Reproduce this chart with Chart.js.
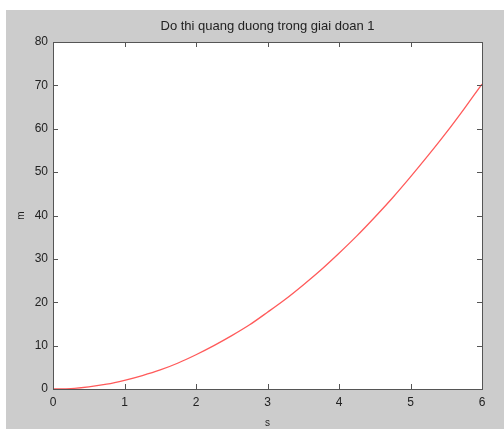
<!DOCTYPE html>
<html>
<head>
<meta charset="utf-8">
<script src="https://cdn.jsdelivr.net/npm/chart.js@4"></script>
<style>
  html, body { margin: 0; padding: 0; background: #ffffff; }
  #wrap { position: absolute; left: 6px; top: 10px; width: 498px; height: 419px; background: #cccccc; }
</style>
</head>
<body>
<div id="wrap"><canvas id="chart" width="498" height="419"></canvas></div>
<script>
// values (time in s, distance in m)
const timeValues = [0, 0.25, 0.5, 0.75, 1, 1.25, 1.5, 1.75, 2, 2.25, 2.5, 2.75, 3,
  3.25, 3.5, 3.75, 4, 4.25, 4.5, 4.75, 5, 5.25, 5.5, 5.75, 6];
const distanceValues = [0, 0.1, 0.5, 1.1, 2.0, 3.1, 4.4, 6.0, 7.9, 10.0, 12.3, 14.8, 17.7,
  20.7, 24.0, 27.5, 31.3, 35.3, 39.6, 44.1, 48.9, 53.9, 59.1, 64.6, 70.3];
const xTicks = [0, 1, 2, 3, 4, 5, 6];
const yTicks = [0, 10, 20, 30, 40, 50, 60, 70, 80];
const chartTitle = 'Do thi quang duong trong giai doan 1';

const points = timeValues.map((t, i) => ({ x: t, y: distanceValues[i] }));

// MATLAB style box with inward ticks on all four sides
const boxTicks = {
  id: 'boxTicks',
  afterDraw(chart) {
    const { ctx, chartArea: a, scales } = chart;
    ctx.save();
    ctx.strokeStyle = '#555555';
    ctx.lineWidth = 1;
    ctx.strokeRect(a.left + 0.5, a.top + 0.5, a.right - a.left, a.bottom - a.top);
    ctx.beginPath();
    xTicks.forEach(v => {
      const px = Math.round(scales.x.getPixelForValue(v)) + 0.5;
      ctx.moveTo(px, a.bottom); ctx.lineTo(px, a.bottom - 5);
      ctx.moveTo(px, a.top); ctx.lineTo(px, a.top + 5);
    });
    yTicks.forEach(v => {
      const py = Math.round(scales.y.getPixelForValue(v)) + 0.5;
      ctx.moveTo(a.left, py); ctx.lineTo(a.left + 5, py);
      ctx.moveTo(a.right, py); ctx.lineTo(a.right - 5, py);
    });
    ctx.stroke();
    // title centred over the axes box, like matlab does
    ctx.fillStyle = '#222222';
    ctx.font = '13px "Liberation Sans"';
    ctx.textAlign = 'center';
    ctx.textBaseline = 'middle';
    ctx.fillText(chartTitle, (a.left + a.right) / 2, 16);
    ctx.restore();
  }
};

const plotBg = {
  id: 'plotBg',
  beforeDraw(chart) {
    const { ctx, chartArea: a } = chart;
    ctx.save();
    ctx.fillStyle = '#ffffff';
    ctx.fillRect(a.left, a.top, a.right - a.left, a.bottom - a.top);
    ctx.restore();
  }
};

const ctx = document.getElementById('chart').getContext('2d');
new Chart(ctx, {
  type: 'line',
  data: {
    datasets: [{
      data: points,
      borderColor: '#ff5a5a',
      borderWidth: 1.3,
      pointRadius: 0,
      tension: 0.3,
      fill: false
    }]
  },
  options: {
    responsive: false,
    animation: false,
    layout: { padding: { left: 0, right: 22, top: 32, bottom: 0 } },
    plugins: {
      legend: { display: false },
      tooltip: { enabled: false },
      title: { display: false }
    },
    scales: {
      x: {
        type: 'linear',
        min: 0, max: 6,
        afterBuildTicks(s) { s.ticks = xTicks.map(v => ({ value: v })); },
        afterFit(s) { s.height = 40; },
        grid: { display: false, drawTicks: false },
        border: { display: false },
        ticks: { color: '#222222', padding: 6, maxRotation: 0, font: { family: 'Liberation Sans', size: 12 } },
        title: { display: true, text: 's', color: '#222222', padding: { top: 2, bottom: 0 }, font: { family: 'Liberation Sans', size: 10 } }
      },
      y: {
        min: 0, max: 80,
        afterBuildTicks(s) { s.ticks = yTicks.map(v => ({ value: v })); },
        afterFit(s) { s.width = 47; },
        grid: { display: false, drawTicks: false },
        border: { display: false },
        ticks: { color: '#222222', padding: 5, font: { family: 'Liberation Sans', size: 12 } },
        title: { display: true, text: 'm', color: '#222222', padding: { top: 9, bottom: 0 }, font: { family: 'Liberation Sans', size: 10 } }
      }
    }
  },
  plugins: [plotBg, boxTicks]
});
</script>
</body>
</html>
